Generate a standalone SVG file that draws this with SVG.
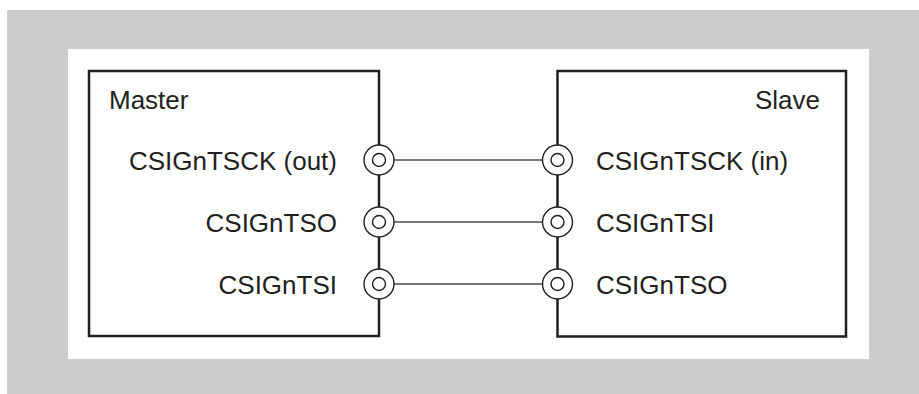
<svg xmlns="http://www.w3.org/2000/svg" width="919" height="394" viewBox="0 0 919 394">
<style>
.box{fill:none;stroke:#231f20;stroke-width:2.5}
.lbl{font-family:"Liberation Sans",Arial,sans-serif;font-size:26px;fill:#231f20}
.wire{stroke:#4d4d4d;stroke-width:1.4;fill:none}
.po{fill:#fff;stroke:#231f20;stroke-width:1.4}
.pi{fill:#fff;stroke:#231f20;stroke-width:1.4}
</style>
<defs>
<g id="port"><circle class="po" r="15"/><circle class="pi" r="6.5"/></g>
</defs>
<rect x="0" y="0" width="919" height="394" fill="#ffffff"/>
<rect x="7" y="10" width="912" height="384" fill="#cccccc"/>
<rect x="68" y="49" width="801" height="310" fill="#ffffff"/>
<g id="connectors">
<line class="wire" x1="393" y1="160" x2="543" y2="160"/>
<line class="wire" x1="393" y1="222" x2="543" y2="222"/>
<line class="wire" x1="393" y1="284" x2="543" y2="284"/>
</g>
<g id="master">
<rect class="box" x="89" y="71" width="290" height="265"/>
<text class="lbl" x="109" y="109">Master</text>
<text class="lbl" x="337" y="169.5" text-anchor="end">CSIGnTSCK (out)</text>
<text class="lbl" x="337" y="231.5" text-anchor="end">CSIGnTSO</text>
<text class="lbl" x="337" y="293.5" text-anchor="end">CSIGnTSI</text>
<use href="#port" x="379" y="160"/>
<use href="#port" x="379" y="222"/>
<use href="#port" x="379" y="284"/>
</g>
<g id="slave">
<rect class="box" x="557.5" y="71" width="288.5" height="265.5"/>
<text class="lbl" x="820" y="109" text-anchor="end">Slave</text>
<text class="lbl" x="596" y="169.5">CSIGnTSCK (in)</text>
<text class="lbl" x="596" y="231.5">CSIGnTSI</text>
<text class="lbl" x="596" y="293.5">CSIGnTSO</text>
<use href="#port" x="557.5" y="160"/>
<use href="#port" x="557.5" y="222"/>
<use href="#port" x="557.5" y="284"/>
</g>
</svg>
